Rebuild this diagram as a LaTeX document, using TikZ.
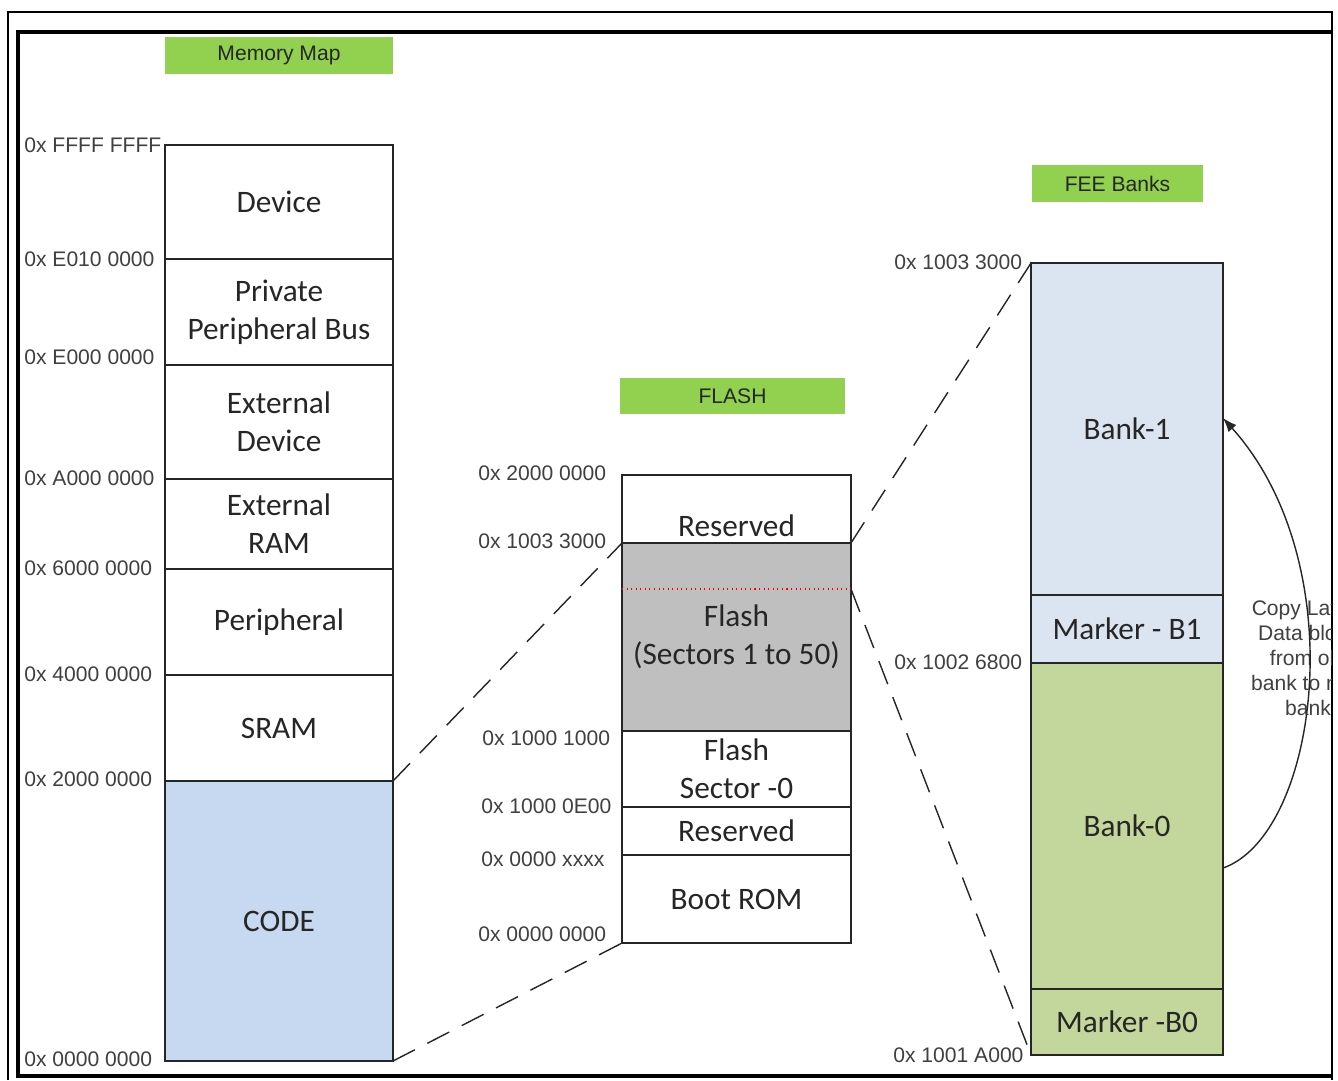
\documentclass[tikz,border=0pt]{standalone}
\usepackage{fontspec}
\setmainfont{Carlito}
\newfontfamily\arialfont{Liberation Sans}
\usetikzlibrary{arrows.meta,calc}
\definecolor{titlegreen}{RGB}{146,208,80}
\definecolor{codeblue}{RGB}{198,217,240}
\definecolor{bankblue}{RGB}{219,229,241}
\definecolor{bankgreen}{RGB}{195,214,155}
\definecolor{flashgray}{RGB}{191,191,191}
\definecolor{addrgray}{RGB}{64,64,64}

\begin{document}
\begin{tikzpicture}[
		x=0.02cm,y=-0.02cm,
		R/.style={draw=black!85,line width=0.8pt,inner sep=0pt,outer sep=0pt,align=center,text=black!85,font=\fontsize{17.8}{21.5}\selectfont},
		A/.style={inner sep=0pt,anchor=west,text=addrgray,font=\arialfont\fontsize{12}{14}\selectfont},
		T/.style={fill=titlegreen,inner sep=0pt,text=black!85,font=\arialfont\fontsize{12}{14}\selectfont},
		L/.style={draw=black!85,line width=0.8pt,dash pattern=on 14pt off 8pt}
	]
	\useasboundingbox (0,0) rectangle (1338,1080);
	\fill[white] (0,0) rectangle (1338,1080);

	%frame
		\draw[line width=1.1pt] (8,1080) -- (8,12) -- (1332,12) -- (1332,1080);
		\draw[line width=2.4pt] (1332,32) -- (18,32) -- (18,1076) -- (1332,1076);

	%titles
		\node[T,minimum width=4.56cm,minimum height=0.74cm] (tmap) at (279,55.5) {Memory Map};
		\node[T,minimum width=4.5cm,minimum height=0.72cm] (tflash) at (732.5,396) {FLASH};
		\node[T,minimum width=3.42cm,minimum height=0.74cm] (tfee) at (1117.5,183.5) {FEE Banks};

	%memory map
		\foreach \n/\t/\b/\c/\s in {dev/145/259/white/Device, ppb/259/365/white/{Private\\Peripheral Bus}, exd/365/479/white/{External\\Device}, exr/479/569/white/{External\\RAM}, per/569/675/white/Peripheral, sram/675/781/white/SRAM, code/781/1061/codeblue/CODE}
		{
			\pgfmathsetmacro{\h}{(\b-\t)*0.02}
			\node[R,fill=\c,minimum width=4.56cm,minimum height=\h cm] (\n) at (279,{(\t+\b)/2}) {\s};
		}
	%flash
		\foreach \n/\t/\b/\c/\s in {rsv1/475/543/white/{}, fsec/543/731/flashgray/{Flash\\(Sectors 1 to 50)}, fsz/731/807/white/{Flash\\Sector -0}, rsv0/807/855/white/Reserved, boot/855/943/white/Boot ROM}
		{
			\pgfmathsetmacro{\h}{(\b-\t)*0.02}
			\node[R,fill=\c,minimum width=4.58cm,minimum height=\h cm] (\n) at (736.5,{(\t+\b)/2}) {\s};
		}
		\node[R,draw=none] (rsvtxt) at (736.5,526) {Reserved};
		\coordinate (redL) at (622,589);
		\coordinate (redR) at (851,589);
		\draw[red,dotted,line width=0.6pt] (redL) -- (redR);
	%fee banks
		\foreach \n/\t/\b/\c/\s in {bank1/263/595/bankblue/Bank-1, mark1/595/663/bankblue/Marker - B1, bank0/663/989/bankgreen/Bank-0, mark0/989/1055/bankgreen/Marker -B0}
		{
			\pgfmathsetmacro{\h}{(\b-\t)*0.02}
			\node[R,fill=\c,minimum width=3.84cm,minimum height=\h cm] (\n) at (1127,{(\t+\b)/2}) {\s};
		}

	%addresses
		\foreach \n/\x/\y/\s in {a1/24/145/FFFF FFFF, a2/24/259/E010 0000, a3/24/357/E000 0000, a4/24/478/A000 0000, a5/24/568/6000 0000, a6/24/674/4000 0000, a7/24/779/2000 0000, a8/24/1059/0000 0000, b1/478/473/2000 0000, b2/478/541/1003 3000, b3/482/738/1000 1000, b4/481/806/1000 0E00, b5/481/859/0000 xxxx, b6/478/934/0000 0000, c1/894/262/1003 3000, c2/894/662/1002 6800, c3/893/1055/1001 A000}
			\node[A] (\n) at (\x,\y) {0x \s};

	%zoom lines
		\draw[L] (code.north east) -- (fsec.north west);
		\draw[L] (code.south east) -- (boot.south west);
		\draw[L] (fsec.north east) -- (bank1.north west);
		\draw[L] (redR) -- (mark0.south west);

	%copy arrow
		\coordinate (cpS) at ($(bank0.east)+(0,42)$);
		\coordinate (cpT) at ($(bank1.east)+(0,-11)$);
		\begin{scope}
			\clip (0,0) rectangle (1331,1080);
			\node[A,anchor=center,align=center,font=\arialfont\fontsize{12}{14.2}\selectfont] (cptxt) at (1308,658) {Copy Latest\\Data block\\from old\\bank to new\\bank};
		\end{scope}
		\draw[-{Latex[length=8pt,width=6pt]},line width=0.8pt,black!85] (cpS) .. controls (1318,835) and (1355,565) .. (cpT);
\end{tikzpicture}
\end{document}
